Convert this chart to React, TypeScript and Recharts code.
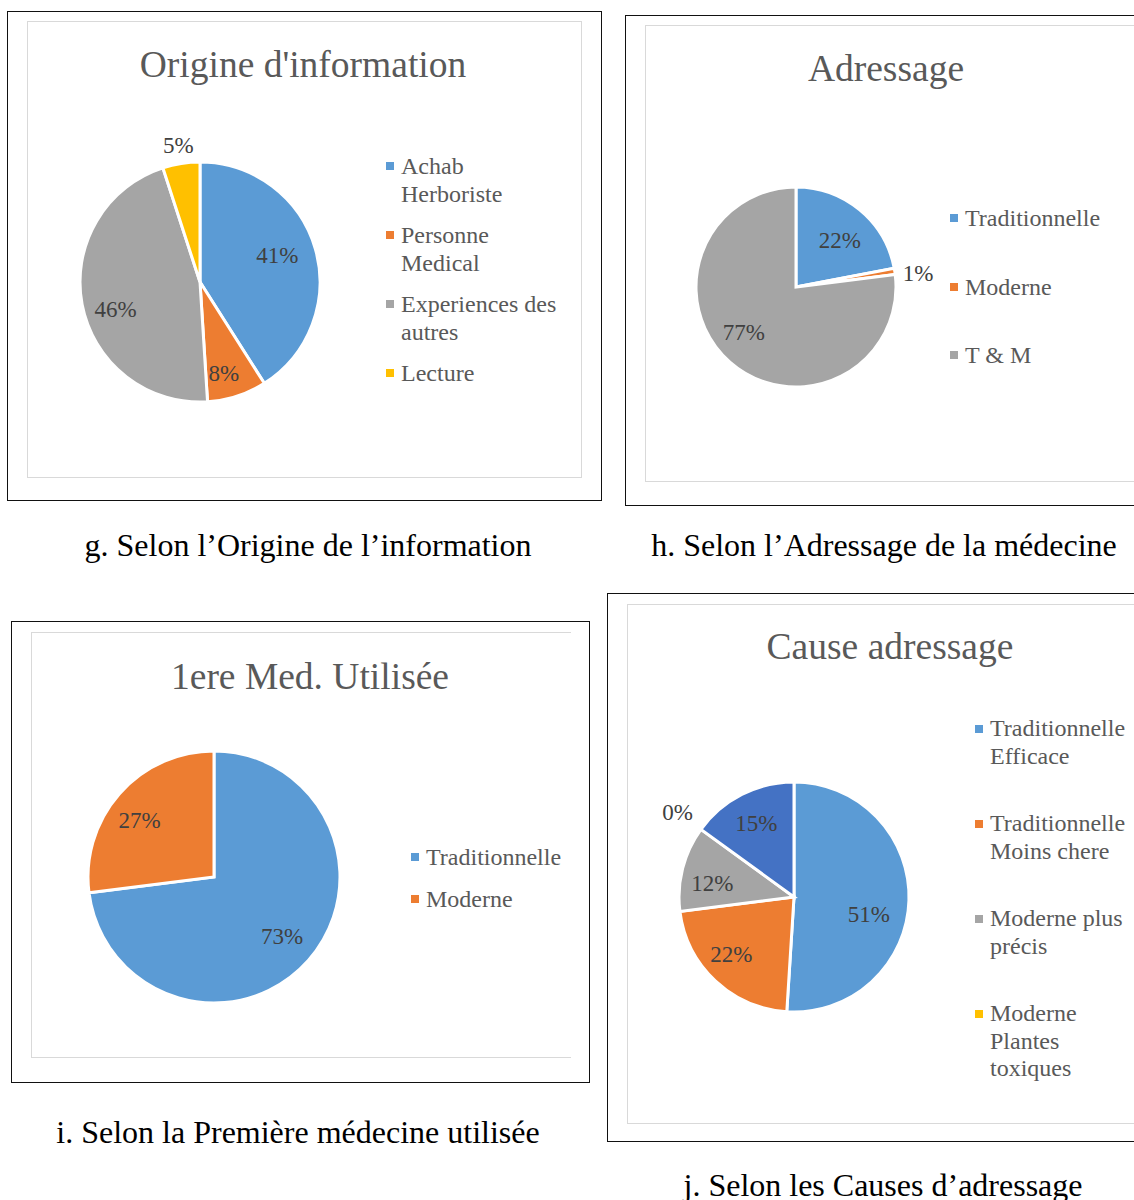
import React from "react";
import { PieChart, Pie, Cell, Legend } from "recharts";

const BLUE = "#5B9BD5";
const ORANGE = "#ED7D31";
const GRAY = "#A5A5A5";
const YELLOW = "#FFC000";
const NAVY = "#4472C4";
const FONT = "'Liberation Serif', 'Times New Roman', serif";

// g. Origine de l'information
const origineCategories = ["Achab Herboriste", "Personne Medical", "Experiences des autres", "Lecture"];
const origineValues = [41, 8, 46, 5];
const origineColors = [BLUE, ORANGE, GRAY, YELLOW];

// h. Adressage de la médecine
const adressageCategories = ["Traditionnelle", "Moderne", "T & M"];
const adressageValues = [22, 1, 77];
const adressageColors = [BLUE, ORANGE, GRAY];

// i. Première médecine utilisée
const premiereCategories = ["Traditionnelle", "Moderne"];
const premiereValues = [73, 27];
const premiereColors = [BLUE, ORANGE];

// j. Causes d'adressage (5th slice has no legend entry in the original)
const causeCategories = [
  "Traditionnelle Efficace",
  "Traditionnelle Moins chere",
  "Moderne plus précis",
  "Moderne Plantes toxiques",
  "Autre",
];
const causeValues = [51, 22, 12, 0, 15];
const causeColors = [BLUE, ORANGE, GRAY, YELLOW, NAVY];

type Rect = { x: number; y: number; w: number; h: number };
type Row = { name: string; value: number; fill: string };
type LegendCfg = { x: number; y: number; width: number; pitch: number; lineHeight: number; fontSize: number; count: number };

// label placement per slice: [radius factor, angle shift in degrees]
const makeLabel = (place: [number, number][]) => (p: any) => {
  const [f, shift] = place[p.index];
  const r = p.outerRadius * f;
  const a = (-(p.midAngle + shift) * Math.PI) / 180;
  return (
    <text
      x={p.cx + r * Math.cos(a)}
      y={p.cy + r * Math.sin(a)}
      textAnchor="middle"
      dominantBaseline="central"
      fill="#404040"
      fontSize={23}
      fontFamily={FONT}
    >
      {`${p.value}%`}
    </text>
  );
};

const makeLegend = (rows: Row[], cfg: LegendCfg) => () => (
  <div style={{ fontFamily: FONT, fontSize: cfg.fontSize, color: "#595959", lineHeight: `${cfg.lineHeight}px` }}>
    {rows.slice(0, cfg.count).map((it, i) => (
      <div key={i} style={{ display: "flex", alignItems: "flex-start", height: cfg.pitch }}>
        <span
          style={{
            width: 8,
            height: 8,
            background: it.fill,
            marginTop: (cfg.lineHeight - 8) / 2,
            marginRight: 7,
            flex: "none",
          }}
        />
        <span style={{ width: cfg.width }}>{it.name}</span>
      </div>
    ))}
  </div>
);

const Txt = ({ x, y, size, color, children }: any) => (
  <div
    style={{
      position: "absolute",
      left: x,
      top: y,
      transform: "translate(-50%, -50%)",
      whiteSpace: "nowrap",
      fontFamily: FONT,
      fontSize: size,
      color,
    }}
  >
    {children}
  </div>
);

type PanelProps = {
  box: Rect;
  inner: Rect;
  innerRight: boolean;
  title: string;
  titleAt: [number, number];
  categories: string[];
  values: number[];
  colors: string[];
  center: [number, number];
  radius: number;
  labelAt: [number, number][];
  legend: LegendCfg;
};

const Panel = (p: PanelProps) => {
  const rows: Row[] = p.categories.map((name, i) => ({ name, value: p.values[i], fill: p.colors[i] }));
  return (
    <>
      <div
        style={{
          position: "absolute",
          left: p.box.x,
          top: p.box.y,
          width: p.box.w,
          height: p.box.h,
          border: "1.5px solid #111",
          boxSizing: "border-box",
        }}
      />
      <div
        style={{
          position: "absolute",
          left: p.inner.x,
          top: p.inner.y,
          width: p.inner.w,
          height: p.inner.h,
          border: "1.5px solid #D9D9D9",
          borderRight: p.innerRight ? "1.5px solid #D9D9D9" : "none",
          boxSizing: "border-box",
        }}
      />
      <Txt x={p.titleAt[0]} y={p.titleAt[1]} size={37.5} color="#595959">
        {p.title}
      </Txt>
      <div style={{ position: "absolute", left: p.box.x, top: p.box.y }}>
        <PieChart width={p.box.w} height={p.box.h} margin={{ top: 0, right: 0, bottom: 0, left: 0 }}>
          <Pie
            data={rows}
            dataKey="value"
            nameKey="name"
            cx={p.center[0] - p.box.x}
            cy={p.center[1] - p.box.y}
            outerRadius={p.radius}
            startAngle={90}
            endAngle={-270}
            stroke="#FFFFFF"
            strokeWidth={3}
            label={makeLabel(p.labelAt)}
            labelLine={false}
            isAnimationActive={false}
          >
            {rows.map((r, i) => (
              <Cell key={i} fill={r.fill} />
            ))}
          </Pie>
          <Legend
            layout="vertical"
            align="right"
            verticalAlign="middle"
            content={makeLegend(rows, p.legend)}
            wrapperStyle={{
              left: p.legend.x - p.box.x,
              top: p.legend.y - p.box.y,
              width: p.legend.width + 20,
            }}
          />
        </PieChart>
      </div>
    </>
  );
};

export default function App() {
  return (
    <div
      style={{
        position: "absolute",
        left: 0,
        top: 0,
        width: 1134,
        height: 1200,
        overflow: "hidden",
        background: "#fff",
      }}
    >
      <Panel
        box={{ x: 7, y: 11, w: 595, h: 490 }}
        inner={{ x: 27, y: 21, w: 555, h: 457 }}
        innerRight={true}
        title="Origine d'information"
        titleAt={[303, 64]}
        categories={origineCategories}
        values={origineValues}
        colors={origineColors}
        center={[200, 282]}
        radius={120}
        labelAt={[[0.68, 2.5], [0.79, -3.4], [0.74, 7.4], [1.15, 0]]}
        legend={{ x: 386, y: 152, width: 162, pitch: 69, lineHeight: 28, fontSize: 24, count: 4 }}
      />
      <Panel
        box={{ x: 625, y: 15, w: 530, h: 491 }}
        inner={{ x: 645, y: 25, w: 520, h: 457 }}
        innerRight={false}
        title="Adressage"
        titleAt={[886, 68]}
        categories={adressageCategories}
        values={adressageValues}
        colors={adressageColors}
        center={[796, 287]}
        radius={100}
        labelAt={[[0.64, -3.5], [1.23, -2.5], [0.69, -7.6]]}
        legend={{ x: 950, y: 204, width: 200, pitch: 68.5, lineHeight: 28, fontSize: 24, count: 3 }}
      />
      <Panel
        box={{ x: 11, y: 621, w: 579, h: 462 }}
        inner={{ x: 31, y: 632, w: 540, h: 426 }}
        innerRight={false}
        title="1ere Med. Utilisée"
        titleAt={[310, 676]}
        categories={premiereCategories}
        values={premiereValues}
        colors={premiereColors}
        center={[214, 877]}
        radius={126}
        labelAt={[[0.72, 0], [0.74, 4.4]]}
        legend={{ x: 411, y: 843, width: 200, pitch: 42, lineHeight: 28, fontSize: 24, count: 2 }}
      />
      <Panel
        box={{ x: 607, y: 593, w: 545, h: 549 }}
        inner={{ x: 627, y: 604, w: 530, h: 520 }}
        innerRight={false}
        title="Cause adressage"
        titleAt={[890, 646]}
        categories={causeCategories}
        values={causeValues}
        colors={causeColors}
        center={[794, 897]}
        radius={115}
        labelAt={[[0.67, -11.7], [0.74, -4.2], [0.72, 4.7], [1.25, 0], [0.72, 0]]}
        legend={{ x: 975, y: 715, width: 145, pitch: 95, lineHeight: 27.5, fontSize: 24, count: 4 }}
      />
      <Txt x={308} y={545} size={32} color="#000">
        g. Selon l’Origine de l’information
      </Txt>
      <Txt x={884} y={545} size={32} color="#000">
        h. Selon l’Adressage de la médecine
      </Txt>
      <Txt x={298} y={1132} size={32} color="#000">
        i. Selon la Première médecine utilisée
      </Txt>
      <Txt x={883} y={1185} size={32} color="#000">
        j. Selon les Causes d’adressage
      </Txt>
    </div>
  );
}
